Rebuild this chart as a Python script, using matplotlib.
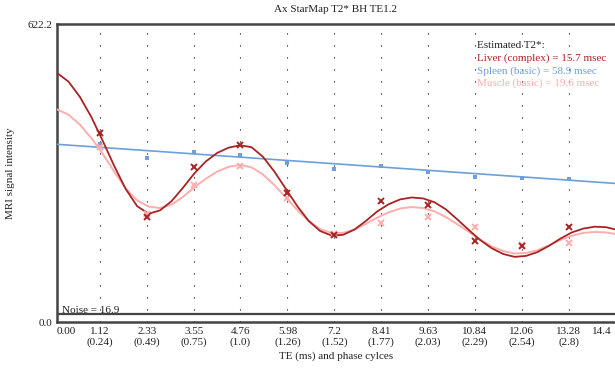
import matplotlib
matplotlib.use("Agg")
import matplotlib.pyplot as plt

plt.rcParams['font.family'] = ['Liberation Serif', 'DejaVu Serif']

# ---- data ----
echo_te = [1.12, 2.33, 3.55, 4.76, 5.98, 7.2, 8.41, 9.63, 10.84, 12.06, 13.28]
liver_pts = [395, 218.6, 323, 369.5, 268.6, 181.6, 253.3, 244.3, 169, 158.7, 199]
spleen_pts = [371.6, 341.8, 355.5, 348.6, 331, 319.4, 325.7, 313.8, 302, 300, 298.5]
muscle_pts = [365, 226, 286, 325.7, 258, 184, 206, 218.6, 197.7, 160, 165.6]

fit_te = [0, 0.297, 0.594, 0.891, 1.188, 1.484, 1.781, 2.078, 2.375, 2.672,
          2.969, 3.266, 3.562, 3.859, 4.156, 4.453, 4.75, 5.047, 5.344, 5.641,
          5.938, 6.234, 6.531, 6.828, 7.125, 7.422, 7.719, 8.016, 8.312, 8.609,
          8.906, 9.203, 9.5, 9.797, 10.094, 10.391, 10.688, 10.984, 11.281, 11.578,
          11.875, 12.172, 12.469, 12.766, 13.062, 13.359, 13.656, 13.953, 14.25, 14.547]
liver_fit = [520, 502, 470, 428, 378, 326, 278, 242, 226, 233,
             252, 280, 310, 335, 353, 364, 369, 365, 345, 314,
             278, 242, 211, 190, 180.5, 182, 193, 211, 231, 246,
             256, 260, 258, 250, 235, 214, 192, 171, 154, 142,
             136, 138, 146, 159, 174, 187, 195, 199, 198, 192]
muscle_fit = [444, 433, 412, 384, 351, 314, 279, 254, 241, 238,
              245, 261, 281, 299, 314, 324, 328, 323, 308, 286,
              260, 234, 211, 194, 186, 186, 193, 205, 218, 229,
              237, 240, 238, 231, 219, 204, 188, 172, 158, 148,
              143, 144, 150, 160, 171, 180, 186, 188, 187, 183]
spleen_fit_te = [0, 14.547]
spleen_fit = [371, 289]

noise = 16.9
y_max = 622.2
x_max = 14.48

tick_pos = [0.0] + echo_te + [14.4]
tick_lab = ["0.00", "1.12\n(0.24)", "2.33\n(0.49)", "3.55\n(0.75)", "4.76\n(1.0)",
            "5.98\n(1.26)", "7.2\n(1.52)", "8.41\n(1.77)", "9.63\n(2.03)",
            "10.84\n(2.29)", "12.06\n(2.54)", "13.28\n(2.8)", "14.4"]

legend_lines = ["Estimated T2*:", "Liver (complex) = 15.7 msec",
                "Spleen (basic) = 58.9 msec", "Muscle (basic) = 19.6 msec"]

c_liver = '#a82424'
c_spleen = '#6c9fdc'
c_muscle = '#ffadad'
c_frame = '#444444'

fig = plt.figure(figsize=(6.15, 3.68), dpi=100)
ax = fig.add_axes([57 / 615, 1 - 322 / 368, 1 - 57 / 615, 298 / 368])
ax.set_xlim(0, x_max)
ax.set_ylim(0, y_max)

for t in echo_te:
    ax.axvline(t, color='black', lw=0.8, linestyle=(0, (1.0, 9.8)), zorder=1)

ax.axhline(noise, color=c_frame, lw=1.6, zorder=2)

ax.plot(spleen_fit_te, spleen_fit, color=c_spleen, lw=1.2, zorder=3)
ax.plot(fit_te, muscle_fit, color=c_muscle, lw=1.4, zorder=4, solid_joinstyle='round')
ax.plot(fit_te, liver_fit, color=c_liver, lw=1.3, zorder=5, solid_joinstyle='round')

ax.plot(echo_te, spleen_pts, linestyle='none', marker='s', ms=2.2, color=c_spleen, mew=0, zorder=6)
ax.plot(echo_te, muscle_pts, linestyle='none', marker='x', ms=4, mew=1.4, color=c_muscle, zorder=6)
ax.plot(echo_te, liver_pts, linestyle='none', marker='x', ms=4, mew=1.4, color=c_liver, zorder=7)

for side in ['left', 'top', 'bottom']:
    ax.spines[side].set_color(c_frame)
    ax.spines[side].set_linewidth(1.8)
ax.spines['right'].set_visible(False)

ax.set_yticks([0, y_max])
ax.set_yticklabels(["0.0", "622.2"])
ax.set_xticks(tick_pos)
ax.set_xticklabels(tick_lab, linespacing=1.15)
ax.tick_params(axis='both', length=0, labelsize=8, pad=3.5, colors='#222222')
xl = ax.get_xticklabels()
xl[0].set_horizontalalignment('left')
xl[-1].set_horizontalalignment('right')
xl[-1].set_x(x_max)

ax.set_ylabel("MRI signal intensity", fontsize=8, color='#222222')
ax.yaxis.set_label_coords(-0.075, 0.5)
ax.set_xlabel("TE (ms) and phase cylces", fontsize=8, color='#222222')
ax.xaxis.set_label_coords(0.5, -0.100)

fig.text(0.546, 1 - 10 / 368, "Ax StarMap T2* BH TE1.2", ha='center', va='center',
         fontsize=8, color='#222222')

leg_colors = ['#222222', c_liver, c_spleen, c_muscle]
leg_y = [46, 58.3, 71, 83.5]
for txt, col, yy in zip(legend_lines, leg_colors, leg_y):
    ax.text((477 - 57) / 558, (322 - yy) / 298, txt, transform=ax.transAxes,
            ha='left', va='center', fontsize=8, color=col, zorder=8)

ax.text((62 - 57) / 558, (322 - 310.5) / 298, "Noise = 16.9", transform=ax.transAxes,
        ha='left', va='center', fontsize=8, color='#222222')

fig.savefig("out.png", dpi=100)
